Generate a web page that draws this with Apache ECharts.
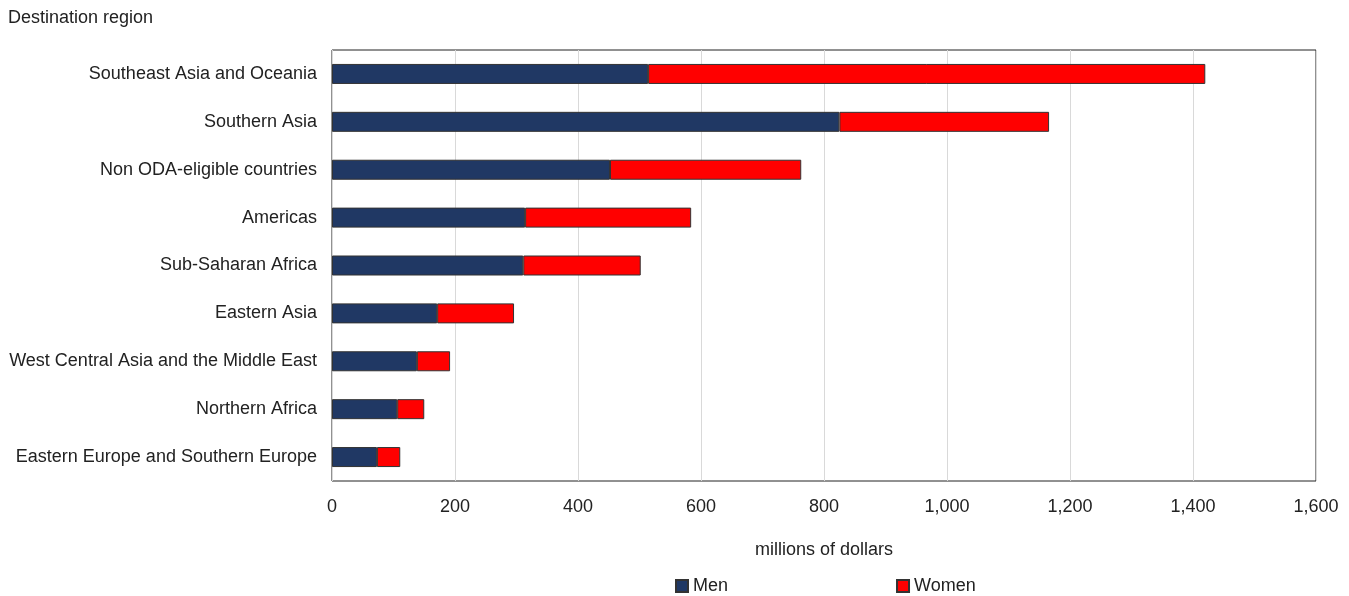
<!DOCTYPE html>
<html>
<head>
<meta charset="utf-8">
<script src="https://cdn.jsdelivr.net/npm/echarts@6/dist/echarts.min.js"></script>
<style>
  html, body { margin: 0; padding: 0; background: #fff; }
  #main { width: 1349px; height: 596px; }
</style>
</head>
<body>
<div id="main"></div>
<script>
// categories listed bottom to top (category axis on y starts at bottom)
const regions = [
  'Eastern Europe and Southern Europe',
  'Northern Africa',
  'West Central Asia and the Middle East',
  'Eastern Asia',
  'Sub-Saharan Africa',
  'Americas',
  'Non ODA-eligible countries',
  'Southern Asia',
  'Southeast Asia and Oceania'
];
const men = [73, 106, 138, 171, 311, 314, 452, 825, 514];
const women = [38, 44, 54, 125, 191, 270, 311, 341, 906];

const font = '"Liberation Sans Narrow", "Arial Narrow", "Liberation Sans", sans-serif';
const fs = 18;

const chart = echarts.init(document.getElementById('main'));
chart.setOption({
  animation: false,
  textStyle: { fontFamily: font, color: '#222' },
  grid: { left: 332, right: 33, top: 50, bottom: 115, show: true, borderColor: '#222', borderWidth: 1 },
  graphic: [{
    type: 'text', left: 8, top: 9,
    style: { text: 'Destination region', font: fs + 'px ' + font, fill: '#222' }
  }],
  legend: {
    top: 572, left: 670, itemGap: 168,
    itemWidth: 12, itemHeight: 12,
    textStyle: { fontSize: fs, fontFamily: font, color: '#222' },
    data: [
      { name: 'Men', icon: 'rect' },
      { name: 'Women', icon: 'rect' }
    ]
  },
  xAxis: {
    type: 'value', min: 0, max: 1600, interval: 200,
    name: 'millions of dollars', nameLocation: 'middle', nameGap: 60,
    nameTextStyle: { fontSize: fs, fontFamily: font, color: '#222' },
    axisLine: { show: false },
    axisTick: { show: false },
    axisLabel: {
      fontSize: fs, fontFamily: font, color: '#222', margin: 17,
      formatter: v => v.toLocaleString('en-US')
    },
    splitLine: { lineStyle: { color: '#d9d9d9', width: 1 } }
  },
  yAxis: {
    type: 'category', data: regions,
    axisLine: { show: false },
    axisTick: { show: false },
    axisLabel: { fontSize: fs, fontFamily: font, color: '#222', margin: 15 }
  },
  series: [
    {
      name: 'Men', type: 'bar', stack: 'total', data: men, barWidth: 20,
      itemStyle: { color: '#203864', borderColor: '#333', borderWidth: 1 }
    },
    {
      name: 'Women', type: 'bar', stack: 'total', data: women, barWidth: 20,
      itemStyle: { color: '#ff0000', borderColor: '#333', borderWidth: 1 }
    }
  ]
});
</script>
</body>
</html>
